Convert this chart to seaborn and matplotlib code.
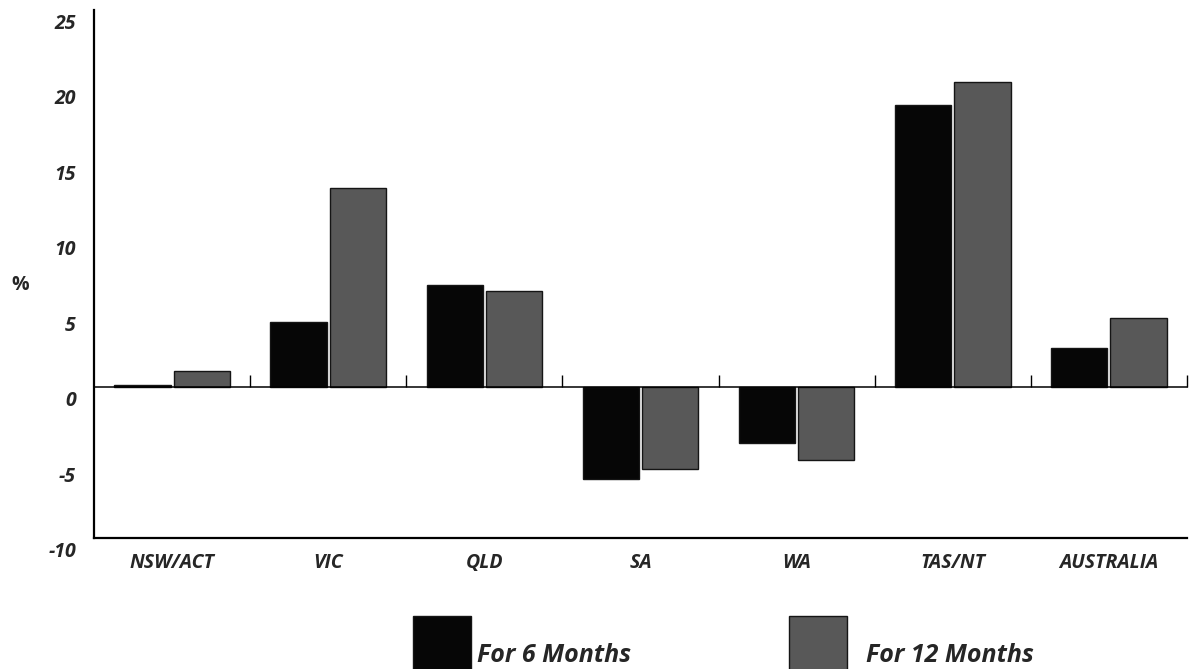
import matplotlib
matplotlib.use("Agg")
import matplotlib.pyplot as plt
from matplotlib.patches import Rectangle
from matplotlib.ticker import FixedLocator
from matplotlib.transforms import ScaledTranslation
import pandas as pd
import seaborn as sns

# Percentage change by region
regions = ["NSW/ACT", "VIC", "QLD", "SA", "WA", "TAS/NT", "AUSTRALIA"]
six_months = [0.15, 4.3, 6.8, -6.1, -3.7, 18.7, 2.6]
twelve_months = [1.1, 13.2, 6.4, -5.4, -4.8, 20.2, 4.6]
series_names = ["For 6 Months", "For 12 Months"]
y_ticks = [-10, -5, 0, 5, 10, 15, 20, 25]

df = pd.DataFrame({
    "region": regions * 2,
    "change": six_months + twelve_months,
    "period": [series_names[0]] * len(regions) + [series_names[1]] * len(regions),
})

sns.set_theme(style="white")
plt.rcParams["font.family"] = ["Open Sans", "DejaVu Sans"]

W, H = 1189, 669
fig = plt.figure(figsize=(W / 100, H / 100), dpi=100)
ax = fig.add_axes([94 / W, 1 - 538 / H, (1187 - 94) / W, (538 - 10) / H])

colors = {series_names[0]: "#060606", series_names[1]: "#585858"}
sns.barplot(
    data=df, x="region", y="change", hue="period",
    order=regions, hue_order=series_names, palette=colors,
    width=0.76, gap=0.05, saturation=1, legend=False,
    edgecolor="#151515", linewidth=1.0, ax=ax,
)

ax.set_xlim(-0.5, len(regions) - 0.5)
ax.set_ylim(-10, 25)
ax.set_xlabel("")
ax.set_ylabel("")

# Spines: left axis, bottom frame line, zero line carries the category dividers
ax.spines["right"].set_visible(False)
ax.spines["left"].set_linewidth(1.6)
ax.spines["bottom"].set_linewidth(1.6)
ax.spines["top"].set_position(("data", 0))
ax.spines["top"].set_linewidth(1.1)
for s in ax.spines.values():
    s.set_color("black")

ax.xaxis.set_minor_locator(FixedLocator([i + 0.5 for i in range(len(regions))]))
ax.tick_params(axis="x", which="major", bottom=True, top=False, length=0, pad=11)
ax.tick_params(axis="x", which="minor", bottom=False, top=True,
               direction="out", length=8.5, width=1.0, color="black")
ax.set_xticks(range(len(regions)))
ax.set_xticklabels(regions, fontsize=14, fontstyle="italic", fontweight="bold")

ax.set_yticks(y_ticks)
ax.set_yticklabels([str(v) for v in y_ticks], fontsize=14,
                   fontstyle="italic", fontweight="bold")
ax.tick_params(axis="y", length=0, pad=13)
shift = ScaledTranslation(0, -11.5 / 100, fig.dpi_scale_trans)
for lbl in ax.get_yticklabels():
    lbl.set_transform(lbl.get_transform() + shift)

fig.text(20 / W, 1 - 285 / H, "%", ha="center", va="center",
         fontsize=14, fontweight="bold")

# Legend keys below the plot
legend_items = [(413, 477), (789, 866)]
for (box_x, text_x), name in zip(legend_items, series_names):
    fig.add_artist(Rectangle((box_x / W, 1 - 674 / H), 58 / W, 58 / H,
                             transform=fig.transFigure, facecolor=colors[name],
                             edgecolor="#151515", linewidth=1.0))
    fig.text(text_x / W, 1 - 662 / H, name, ha="left", va="baseline",
             fontsize=18, fontstyle="italic", fontweight="bold")

fig.savefig("out.png", dpi=100)
